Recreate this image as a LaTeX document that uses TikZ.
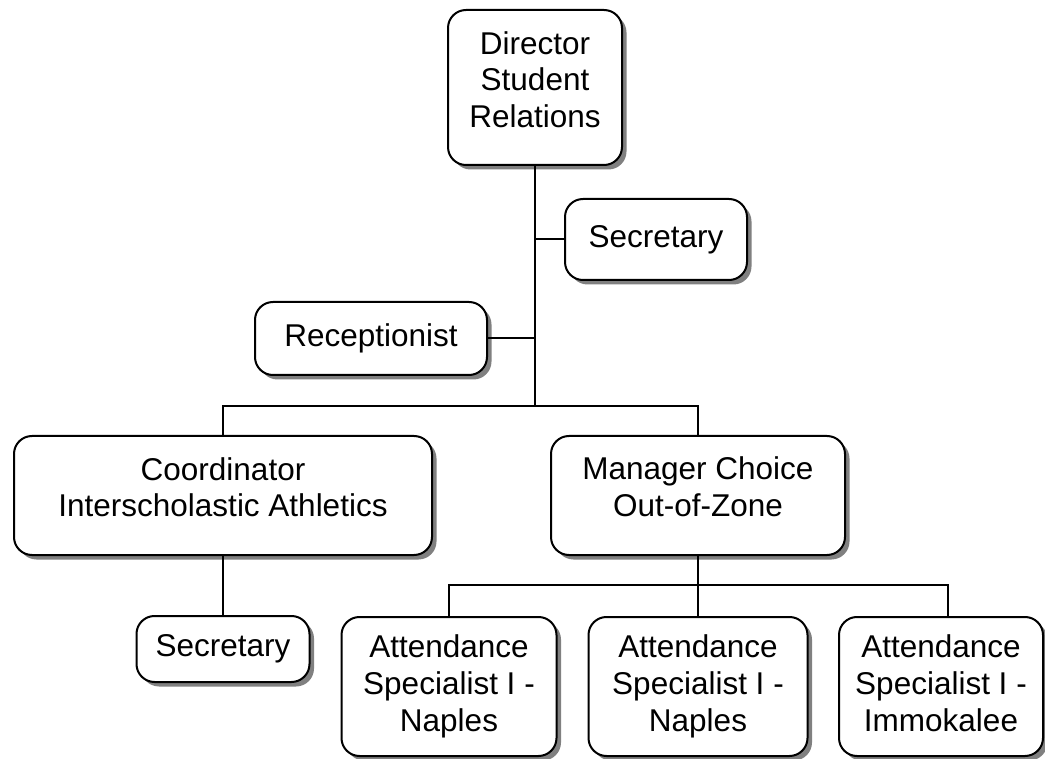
\documentclass[tikz,border=0pt]{standalone}
\usepackage{fontspec}
\setmainfont{Liberation Sans}
\usetikzlibrary{shadows}

% extra room under the last line of a box
\newcommand{\lowpad}[1]{\rule[-#1]{0pt}{#1}}

\begin{document}
\begin{tikzpicture}[x=1pt,y=-1pt,
    box/.style={draw,line width=2pt,rounded corners=18pt,fill=white,align=center,
      inner sep=0pt,font=\fontsize{31.5}{36.8}\selectfont,
      drop shadow={shadow xshift=4.5pt,shadow yshift=-4.5pt,fill=gray,opacity=1}},
    link/.style={line width=2pt}]
        \useasboundingbox (0,0) rectangle (1045,759);
        % top
        \node[box,minimum width=174pt,minimum height=155pt] (dir) at (535,87.5) {Director\\Student\\Relations\lowpad{16pt}};
        \node[box,minimum width=182pt,minimum height=81pt] (sec1) at (656,239.5) {Secretary};
        \node[box,minimum width=232pt,minimum height=73pt] (rec) at (371,338.5) {Receptionist};
        % middle
        \node[box,minimum width=418pt,minimum height=119pt] (coord) at (223,495.5) {Coordinator\\Interscholastic Athletics\lowpad{17pt}};
        \node[box,minimum width=294pt,minimum height=119pt] (mgr) at (698,495.5) {Manager Choice\\Out-of-Zone\lowpad{18pt}};
        % bottom
        \node[box,minimum width=173pt,minimum height=66pt] (sec2) at (223,649) {Secretary};
        \node[box,minimum width=215pt,minimum height=139pt] (att1) at (449,686.5) {Attendance\\Specialist I -\\Naples};
        \node[box,minimum width=219pt,minimum height=139pt] (att2) at (698,686.5) {Attendance\\Specialist I -\\Naples};
        \node[box,minimum width=204pt,minimum height=139pt] (att3) at (941,686.5) {Attendance\\Specialist I -\\Immokalee\lowpad{7pt}};

        \coordinate (split) at (535,406);
        \coordinate (split2) at (698,585);
        \draw[link] (dir.south) -- (split);
        \draw[link] (sec1.west) -- (sec1.west -| dir.south);
        \draw[link] (rec.east) -- (rec.east -| dir.south);
        \draw[link] (coord.north) |- (split) -| (mgr.north);
        \draw[link] (coord.south) -- (sec2.north);
        \draw[link] (mgr.south) -- (split2);
        \draw[link] (att1.north) |- (split2) -| ([xshift=7pt]att3.north);
        \draw[link] (att2.north) -- (att2.north |- split2);
      \end{tikzpicture}
\end{document}
